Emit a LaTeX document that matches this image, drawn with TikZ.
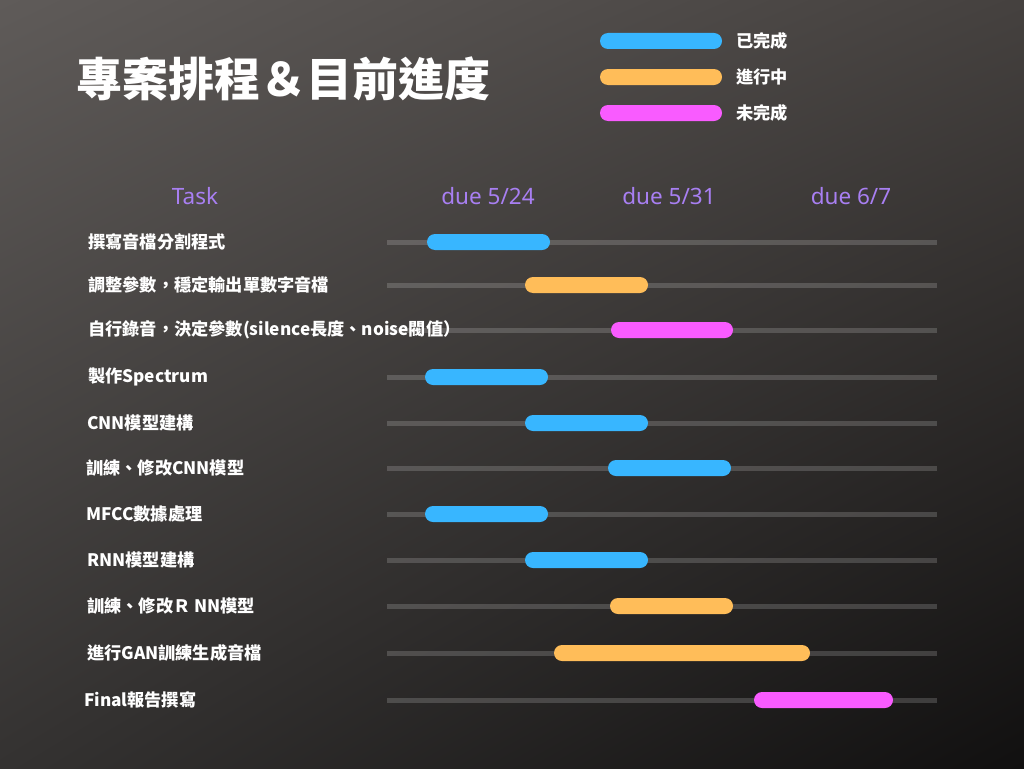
\documentclass[tikz,border=0pt]{standalone}
\usepackage{fontspec}
\usetikzlibrary{shadings}
\newfontfamily\cjk{Noto Sans CJK TC}
\newfontfamily\hdrfont{Noto Sans}
\definecolor{bgA}{HTML}{5F5B59}
\definecolor{bgB}{HTML}{45413F}
\definecolor{bgC}{HTML}{343231}
\definecolor{bgD}{HTML}{111010}
\definecolor{done}{HTML}{38B6FF}
\definecolor{doing}{HTML}{FFBD59}
\definecolor{todo}{HTML}{F95BFF}
\definecolor{hdr}{HTML}{A87FF2}

\begin{document}
\begin{tikzpicture}[x=1pt, y=-1pt,
      title/.style={anchor=west, inner sep=0pt, text=white,
        font=\cjk\bfseries\fontsize{46}{50}\selectfont},
      task/.style={anchor=west, inner sep=0pt, text=white,
        font=\cjk\bfseries\fontsize{17.2}{20}\selectfont},
      head/.style={inner sep=0pt, text=hdr,
        font=\hdrfont\fontsize{22.5}{26}\selectfont},
      track/.style={line width=5pt, white, opacity=0.17},
      bar/.style={rounded corners=8pt}]

    % background
    \shade[upper left=bgA, upper right=bgB, lower left=bgC, lower right=bgD]
      (0,0) rectangle (1024,768);
    \useasboundingbox (0,0) rectangle (1024,768);

    % title and legend
    \node[title] (title) at (76,79) {專案排程＆目前進度};
    \foreach \k/\y/\c/\txt in {1/41/done/{已完成}, 2/77/doing/{進行中},
        3/113/todo/{未完成}} {
      \fill[bar, \c] (600,\y-8) rectangle (722,\y+8);
      \node[task] (key\k) at (736,\y) {\txt};
    }

    % column heads
    \node[head] (hTask) at (195,196) {Task};
    \node[head] (h1) at (488,196) {due 5/24};
    \node[head] (h2) at (669,196) {due 5/31};
    \node[head] (h3) at (851,196) {due 6/7};

    % tasks
    \foreach \r/\lx/\y/\a/\b/\c/\txt in {
        1/88/242/427/550/done/{撰寫音檔分割程式},
        2/88/285/525/648/doing/{調整參數，穩定輸出單數字音檔},
        3/88/330/611/733/todo/{自行錄音，決定參數(silence長度、noise閥值）},
        4/88/377/425/548/done/{製作Spectrum},
        5/87/423/525/648/done/{CNN模型建構},
        6/86/468/608/731/done/{訓練、修改CNN模型},
        7/86/514/425/548/done/{MFCC數據處理},
        8/87/560/525/648/done/{RNN模型建構},
        9/87/606/610/733/doing/{訓練、修改Ｒ NN模型},
        10/87/653/554/810/doing/{進行GAN訓練生成音檔},
        11/84/700/754/893/todo/{Final報告撰寫}} {
      \draw[track] (387,\y) -- (937,\y);
      \fill[bar, \c] (\a,\y-8) rectangle (\b,\y+8);
      \node[task] (t\r) at (\lx,\y) {\txt};
    }
  \end{tikzpicture}
\end{document}
